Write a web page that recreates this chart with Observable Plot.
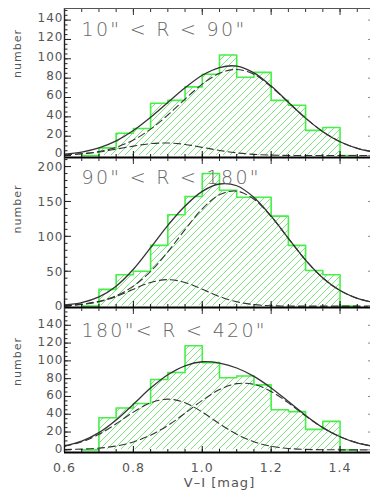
<!DOCTYPE html>
<html><head><meta charset="utf-8">
<script src="https://cdn.jsdelivr.net/npm/d3@7"></script>
<script src="https://cdn.jsdelivr.net/npm/@observablehq/plot@0.6"></script>
<style>
html,body{margin:0;padding:0;background:#fff;overflow:hidden;}
#chart{position:relative;width:370px;height:496px;overflow:hidden;background:#fff;}
#chart svg{position:absolute;left:0;}
</style></head><body><div id="chart"></div>
<script>
// ---- data ----
const panelTitles = ['10" < R < 90"', '90" < R < 180"', '180"< R < 420"'];
const binEdges = [0.65,0.70,0.75,0.80,0.85,0.90,0.95,1.00,1.05,1.10,1.15,1.20,1.25,1.30,1.35,1.40,1.45];
const counts1 = [0,8,23,28,54,57,71,84,104,81,86,57,52,26,29,0,0];
const counts2 = [0,24,45,50,87,131,157,190,166,156,156,129,87,51,45,0,0];
const counts3 = [0,36,47,52,79,87,117,98,81,83,73,45,43,23,32,0,0];

const curveX = [0.60,0.65,0.70,0.75,0.80,0.85,0.90,0.95,1.00,1.05,1.10,1.15,1.20,1.25,1.30,1.35,1.40,1.45,1.50];
const fitBlue1  = [0.7,1.8,3.7,6.6,9.8,12.3,13.0,11.5,8.5,5.3,2.8,1.2,0.5,0.1,0,0,0,0,0];
const fitRed1   = [0.7,1.8,4.2,8.6,16.1,27.3,41.9,58.4,73.8,85.0,89.0,84.0,71.0,55.0,38.7,24.7,14.3,7.5,3.6];
const fitTotal1 = [1.4,3.6,7.9,15.2,25.9,39.6,54.9,70.0,83.0,91.0,92.5,85.5,71.8,55.1,38.7,24.7,14.3,7.5,3.6];
const fitBlue2  = [0.6,2.2,6.2,13.7,24.1,33.9,38.0,33.9,24.1,13.7,6.2,2.2,0.6,0.1,0,0,0,0,0];
const fitRed2   = [1.1,2.9,7.0,14.9,28.7,49.8,77.8,109.7,139.4,159.6,164.7,153.1,128.3,96.9,65.9,40.4,22.3,11.1,5.0];
const fitTotal2 = [1.7,5.1,13.2,28.6,52.8,83.7,115.8,143.6,164.5,175.0,172.5,155.8,128.9,97.0,65.9,40.4,22.3,11.1,5.0];
const fitBlue3  = [4.0,9.0,17.5,29.3,42.4,52.9,57.0,52.9,42.4,29.3,17.5,9.0,4.0,1.5,0.5,0.1,0,0,0];
const fitRed3   = [0.3,0.8,1.9,4.3,8.9,16.5,27.4,41.1,55.6,67.7,74.4,73.6,65.6,52.8,38.2,24.9,14.7,7.8,3.7];
const fitTotal3 = [4.3,9.8,19.4,33.6,51.3,69.4,84.4,94.5,99.0,97.5,92.0,82.6,69.6,54.3,38.7,25.0,14.7,7.8,3.7];

const xDomain = [0.6, 1.5];
const xMajorTicks = [0.6, 0.8, 1.0, 1.2, 1.4];
const yDomains = [[-2, 152], [-2, 213], [-3, 160]];
const yMajorTicks = [[0,20,40,60,80,100,120,140], [0,50,100,150,200], [0,20,40,60,80,100,120,140]];
const yMinorStep = [5, 10, 5];

// ---- layout ----
const tops = [0, 147, 297];
const marginTops = [8, 10, 10];
const frameHeights = [149, 150, 145];
const marginBottoms = [2, 2, 44];
const titleDy = [14, 13, 16];
const labelDy = [-5, 1, 6];
const tickLabelDy = [-2, 0.5, -1];

const green = "#46f046";
const hatchColor = "#7ee67e";
const counts = [counts1, counts2, counts3];
const fits = [[fitBlue1, fitRed1, fitTotal1], [fitBlue2, fitRed2, fitTotal2], [fitBlue3, fitRed3, fitTotal3]];
const chart = document.getElementById("chart");

for (let i = 0; i < 3; i++) {
  const id = "hatch" + i;
  const bins = binEdges.map((x, j) => ({x, v: counts[i][j]}));
  const [b, r, t] = fits[i].map(arr => curveX.map((x, j) => ({x, v: arr[j]})));
  const yd = yDomains[i];
  const yMinor = d3.range(0, yd[1], yMinorStep[i]);
  const xMinor = d3.range(0.6, 1.5001, 0.05).map(v => +v.toFixed(2));
  const noText = () => "";
  const marks = [
    Plot.areaY(bins, {x: "x", y: "v", curve: "step-after", fill: `url(#${id})`}),
    Plot.lineY(bins, {x: "x", y: "v", curve: "step-after", stroke: green, strokeWidth: 1.6}),
    Plot.lineY(b, {x: "x", y: "v", curve: "catmull-rom", stroke: "#333", strokeWidth: 1.1, strokeDasharray: "7,4", clip: true}),
    Plot.lineY(r, {x: "x", y: "v", curve: "catmull-rom", stroke: "#333", strokeWidth: 1.1, strokeDasharray: "7,4", clip: true}),
    Plot.lineY(t, {x: "x", y: "v", curve: "catmull-rom", stroke: "#333", strokeWidth: 1.3, clip: true}),
    Plot.ruleX([xDomain[0]], {stroke: "#222", strokeWidth: 1.4}),
    Plot.ruleY([yd[0]], {stroke: "#000", strokeWidth: 2}),
    Plot.axisY(yMajorTicks[i], {tickSize: -7, tickFormat: noText, label: null, color: "#222"}),
    Plot.axisY(yMinor, {tickSize: -3.5, tickFormat: noText, label: null, color: "#222"}),
    Plot.axisY(yMajorTicks[i], {anchor: "right", tickSize: -7, tickFormat: noText, label: null, color: "#888"}),
    Plot.axisY(yMinor, {anchor: "right", tickSize: -4, tickFormat: noText, label: null, color: "#888"}),
    Plot.axisY(yMajorTicks[i], {tickSize: 0, tickPadding: 1, dy: tickLabelDy[i], fontSize: 12, label: null, color: "#555"}),
    Plot.axisX(xMajorTicks, {anchor: "bottom", tickSize: -6, tickFormat: noText, label: null, color: "#111"}),
    Plot.axisX(xMinor, {anchor: "bottom", tickSize: -3, tickFormat: noText, label: null, color: "#111"}),
    Plot.axisX(xMajorTicks, {anchor: "top", tickSize: -6, tickFormat: noText, label: null, color: "#333"}),
    Plot.axisX(xMinor, {anchor: "top", tickSize: -3, tickFormat: noText, label: null, color: "#333"}),
    Plot.text([panelTitles[i]], {frameAnchor: "top-left", dx: 17, dy: titleDy[i], textAnchor: "start", fontSize: 19, fontWeight: 200, fill: "#666"}),
    Plot.text(["number"], {frameAnchor: "left", dx: -47, dy: labelDy[i], rotate: -90, fontSize: 11, fill: "#555"})
  ];
  if (i === 0) marks.push(Plot.ruleY([yd[1]], {stroke: "#555", strokeWidth: 1}));
  if (i === 2) {
    marks.push(Plot.axisX(xMajorTicks, {anchor: "bottom", tickSize: 0, tickPadding: 11, fontSize: 12.5, tickFormat: d3.format(".1f"), label: null, color: "#555"}));
    marks.push(Plot.text(["V\u2013I [mag]"], {frameAnchor: "bottom", dy: 34, fontSize: 13, fill: "#555"}));
  }
  const svg = Plot.plot({
    width: 374,
    height: marginTops[i] + frameHeights[i] + marginBottoms[i],
    marginTop: marginTops[i], marginBottom: marginBottoms[i], marginLeft: 64, marginRight: 0,
    style: {background: "transparent", fontFamily: "'DejaVu Sans', sans-serif", fontSize: "12.5px", letterSpacing: "1px", color: "#111", maxWidth: "none", overflow: "visible"},
    x: {domain: xDomain},
    y: {domain: yd},
    marks
  });
  d3.select(svg).insert("defs", ":first-child").html(
    `<pattern id="${id}" patternUnits="userSpaceOnUse" width="7" height="7"><path d="M-1,1 l2,-2 M0,7 l7,-7 M6,8 l2,-2" stroke="${hatchColor}" stroke-width="1" fill="none"/></pattern>`);
  svg.querySelectorAll("text").forEach(el => { if (el.textContent === panelTitles[i]) el.style.letterSpacing = "2.3px"; });
  svg.style.top = tops[i] + "px";
  chart.appendChild(svg);
}
</script></body></html>
